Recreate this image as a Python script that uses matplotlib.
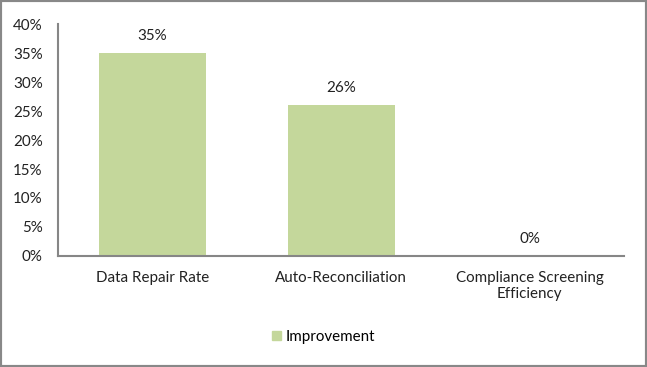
import matplotlib
matplotlib.use("Agg")
import matplotlib.pyplot as plt
from matplotlib.patches import Patch, Rectangle

categories = ["Data Repair Rate", "Auto-Reconciliation", "Compliance Screening\nEfficiency"]
values = [0.35, 0.26, 0.0]
value_labels = ["35%", "26%", "0%"]
yticks = [0, 0.05, 0.10, 0.15, 0.20, 0.25, 0.30, 0.35, 0.40]
ytick_labels = ["0%", "5%", "10%", "15%", "20%", "25%", "30%", "35%", "40%"]
series_name = "Improvement"

plt.rcParams['font.family'] = ['Lato', 'DejaVu Sans']
fs = 10.9
fig = plt.figure(figsize=(6.47, 3.67), dpi=100)
ax = fig.add_axes([0.0896, 0.3025, 0.875, 0.632])
x = range(len(categories))
bars = ax.bar(x, values, width=0.567, color="#C4D79B")
ax.set_xlim(-0.5, 2.5)
ax.set_ylim(0, 0.4)
ax.set_yticks(yticks)
ax.set_yticklabels(ytick_labels, fontsize=fs, color="#222222")
ax.set_xticks(list(x))
ax.set_xticklabels(categories, fontsize=fs, color="#222222", linespacing=1.15)
ax.tick_params(axis='both', length=0)
ax.tick_params(axis='y', pad=11)
ax.tick_params(axis='x', pad=11)
for s in ["top", "right"]:
    ax.spines[s].set_visible(False)
for s in ["left", "bottom"]:
    ax.spines[s].set_color("#868686")
    ax.spines[s].set_linewidth(1.5)
for xi, v, lab in zip(x, values, value_labels):
    ax.annotate(lab, (xi, v), xytext=(0, 7.5), textcoords="offset points",
                ha="center", va="bottom", fontsize=fs, color="#222222")
fig.legend(handles=[Patch(color="#C4D79B", label=series_name)], loc="center",
           bbox_to_anchor=(0.5, 0.082), frameon=False, fontsize=fs,
           handlelength=0.6, handleheight=0.6, handletextpad=0.3)
fig.add_artist(Rectangle((0, 0), 1, 1, transform=fig.transFigure, fill=False,
                         edgecolor="#888888", linewidth=3, clip_on=False))
fig.savefig("out.png", dpi=100)
